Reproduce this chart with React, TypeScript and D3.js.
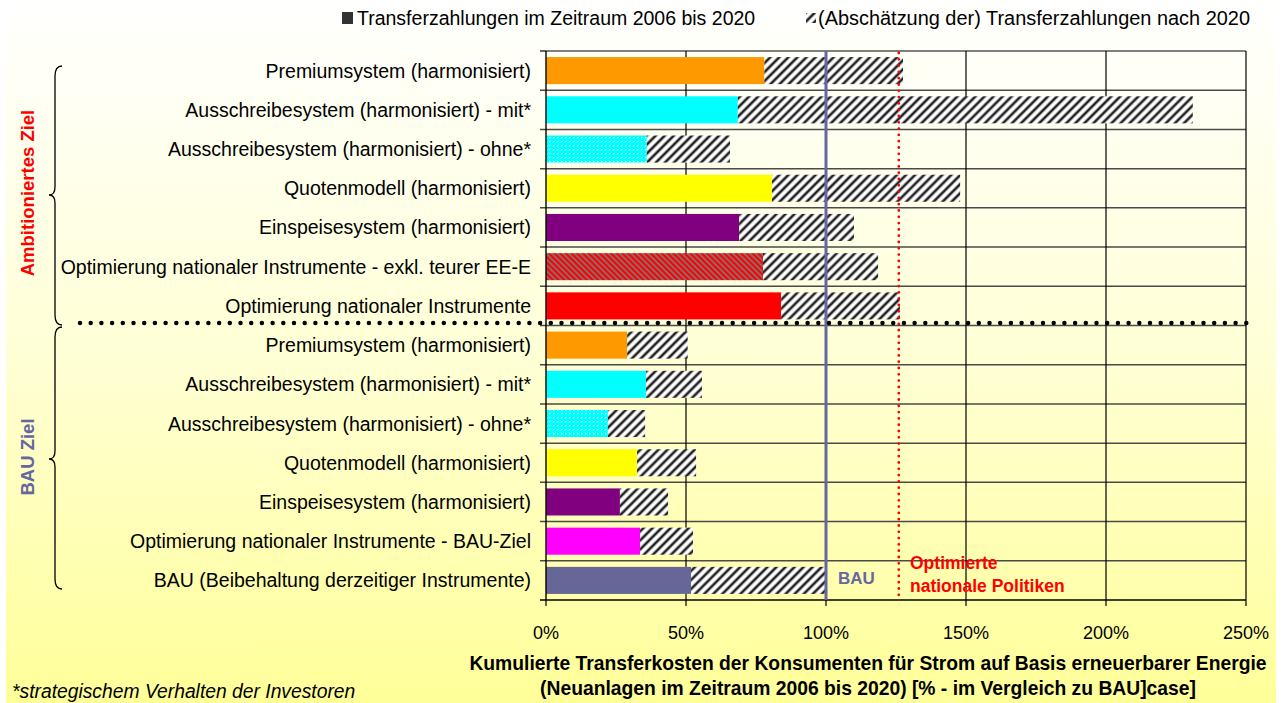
import React from "react";
import * as d3 from "d3";

const categories = [
  "Premiumsystem (harmonisiert)",
  "Ausschreibesystem (harmonisiert) - mit*",
  "Ausschreibesystem (harmonisiert) - ohne*",
  "Quotenmodell (harmonisiert)",
  "Einspeisesystem (harmonisiert)",
  "Optimierung nationaler Instrumente - exkl. teurer EE-E",
  "Optimierung nationaler Instrumente",
  "Premiumsystem (harmonisiert)",
  "Ausschreibesystem (harmonisiert) - mit*",
  "Ausschreibesystem (harmonisiert) - ohne*",
  "Quotenmodell (harmonisiert)",
  "Einspeisesystem (harmonisiert)",
  "Optimierung nationaler Instrumente - BAU-Ziel",
  "BAU (Beibehaltung derzeitiger Instrumente)",
];
// Transfer payments 2006-2020 (% of BAU)
const until2020 = [78, 68.5, 36, 80.7, 69, 77.5, 84, 29, 35.7, 22.1, 32.5, 26.4, 33.6, 51.8];
// Estimated transfer payments after 2020 (% of BAU)
const after2020 = [49.5, 162.5, 29.7, 67.2, 41, 41.1, 42.4, 21.6, 20, 13.3, 21.1, 17.2, 18.9, 48.2];
const barFills = [
  "#FF9900", "#00FFFF", "url(#cyanDots)", "#FFFF00", "#800080", "url(#redGray)", "#FF0000",
  "#FF9900", "#00FFFF", "url(#cyanDots)", "#FFFF00", "#800080", "#FF00FF", "#666699",
];
const xTicks = [0, 50, 100, 150, 200, 250];
const bauLine = 100;
const optLine = 126;
const legendLabels = [
  "Transferzahlungen im Zeitraum 2006 bis 2020",
  "(Abschätzung der) Transferzahlungen nach 2020",
];
const groupLabels = ["Ambitioniertes Ziel", "BAU Ziel"];

const W = 1281;
const H = 703;
const FONT = "Liberation Sans, Arial, sans-serif";

export default function App() {
  const x = d3.scaleLinear().domain([0, 250]).range([546, 1246]);
  const y = d3
    .scaleBand<number>()
    .domain(categories.map((_, i) => i))
    .range([51, 600])
    .paddingInner(0.31)
    .paddingOuter(0.155);
  const step = y.step();
  const bounds = d3.range(1, categories.length).map((i) => 51 + i * step);

  const brace = (top: number, tip: number, bottom: number) => {
    const xe = 62, xv = 55, xt = 49;
    return `M${xe},${top} Q${xv},${top} ${xv},${top + 10} L${xv},${tip - 8} Q${xv},${tip} ${xt},${tip} Q${xv},${tip} ${xv},${tip + 8} L${xv},${bottom - 10} Q${xv},${bottom} ${xe},${bottom}`;
  };

  return (
    <svg
      width={W}
      height={H}
      style={{ position: "absolute", left: 0, top: 0, fontFamily: FONT }}
    >
      <defs>
        <linearGradient id="bg" x1="0" y1="0" x2="0" y2="1">
          <stop offset="0" stopColor="#FFFFFF" />
          <stop offset="0.5" stopColor="#FFFFD6" />
          <stop offset="1" stopColor="#FFFF99" />
        </linearGradient>
        <pattern id="hatch" patternUnits="userSpaceOnUse" width="6.4" height="10" patternTransform="rotate(45)">
          <rect width="6.4" height="10" fill="#FFFFFF" />
          <rect x="1" width="0.7" height="10" fill="#999" />
          <rect x="1.7" width="2.2" height="10" fill="#222" />
          <rect x="3.9" width="0.7" height="10" fill="#999" />
        </pattern>
        <pattern id="redGray" patternUnits="userSpaceOnUse" width="4" height="10" patternTransform="rotate(-45)">
          <rect width="4" height="10" fill="#FF0000" />
          <rect x="2" width="2" height="10" fill="#8a6a6a" />
        </pattern>
        <pattern id="cyanDots" patternUnits="userSpaceOnUse" width="4" height="4">
          <rect width="4" height="4" fill="#00FFFF" />
          <rect x="1" y="1" width="1.3" height="1.3" fill="#E8FFFF" />
        </pattern>
      </defs>

      <rect x={6} y={0} width={1270} height={H} fill="url(#bg)" />

      {/* Legend */}
      <rect x={342} y={12} width={11} height={12} fill="#333333" />
      <text x={357} y={25} fontSize={19.5} fill="#000">{legendLabels[0]}</text>
      <rect x={806} y={13} width={10} height={10} fill="url(#hatch)" />
      <text x={818} y={25} fontSize={19.5} fill="#000" textLength={432} lengthAdjust="spacingAndGlyphs">{legendLabels[1]}</text>

      {/* Plot frame */}
      <line x1={546} x2={1246} y1={51} y2={51} stroke="#000" strokeWidth={1.2} />
      {bounds.map((b, i) => (
        <line key={"g" + i} x1={540} x2={1246} y1={b} y2={b} stroke="#4a4a4a" strokeWidth={1.5} />
      ))}
      {xTicks.filter((t) => t > 0 && t < 250 && t !== bauLine).map((t) => (
        <line key={"v" + t} x1={x(t)} x2={x(t)} y1={51} y2={600} stroke="#000" strokeWidth={1.2} />
      ))}
      <line x1={1246} x2={1246} y1={51} y2={600} stroke="#000" strokeWidth={1.2} />

      {/* Bars */}
      {categories.map((c, i) => {
        const yy = y(i)!;
        const h = y.bandwidth();
        return (
          <g key={"b" + i}>
            <rect x={x(0)} y={yy} width={x(until2020[i]) - x(0)} height={h} fill={barFills[i]} />
            <rect
              x={x(until2020[i])}
              y={yy}
              width={x(until2020[i] + after2020[i]) - x(until2020[i])}
              height={h}
              fill="url(#hatch)"
            />
          </g>
        );
      })}

      {/* Axes */}
      <line x1={546} x2={546} y1={51} y2={600} stroke="#000" strokeWidth={1.4} />
      <line x1={540} x2={1246} y1={600} y2={600} stroke="#000" strokeWidth={1.4} />
      <line x1={540} x2={546} y1={51} y2={51} stroke="#000" strokeWidth={1.2} />
      {xTicks.map((t) => (
        <g key={"t" + t}>
          <line x1={x(t)} x2={x(t)} y1={600} y2={606} stroke="#000" strokeWidth={1.2} />
          <text x={x(t)} y={639} fontSize={18} textAnchor="middle" fill="#000">
            {t + "%"}
          </text>
        </g>
      ))}

      {/* Reference lines */}
      <line x1={x(bauLine)} x2={x(bauLine)} y1={51} y2={600} stroke="#6666A0" strokeWidth={3} />
      <line
        x1={x(optLine)}
        x2={x(optLine)}
        y1={53}
        y2={600}
        stroke="#FF0000"
        strokeWidth={2.8}
        strokeDasharray="0 6.3"
        strokeLinecap="round"
      />
      <text x={838} y={584} fontSize={17} fontWeight="bold" fill="#6666A0">BAU</text>
      <text x={910} y={569} fontSize={17.5} fontWeight="bold" fill="#FF0000">Optimierte</text>
      <text x={910} y={592} fontSize={17.5} fontWeight="bold" fill="#FF0000">nationale Politiken</text>

      {/* Separator */}
      <line
        x1={80}
        x2={1252}
        y1={323}
        y2={323}
        stroke="#000"
        strokeWidth={4.5}
        strokeDasharray="0 10.7"
        strokeLinecap="round"
      />

      {/* Category labels */}
      {categories.map((c, i) => (
        <text
          key={"l" + i}
          x={531}
          y={y(i)! + y.bandwidth() / 2 + 7}
          fontSize={19.5}
          textAnchor="end"
          fill="#000"
        >
          {c}
        </text>
      ))}

      {/* Braces and group labels */}
      <path d={brace(66, 195, 325)} fill="none" stroke="#000" strokeWidth={1.3} />
      <path d={brace(327, 459, 589)} fill="none" stroke="#000" strokeWidth={1.3} />
      <text
        transform="translate(34,193) rotate(-90)"
        fontSize={18.5}
        fontWeight="bold"
        textAnchor="middle"
        fill="#FF0000"
      >
        {groupLabels[0]}
      </text>
      <text
        transform="translate(34,457) rotate(-90)"
        fontSize={18.5}
        fontWeight="bold"
        textAnchor="middle"
        fill="#6666A0"
      >
        {groupLabels[1]}
      </text>

      {/* Axis title */}
      <text x={868} y={670} fontSize={19.3} fontWeight="bold" textAnchor="middle" fill="#000">
        Kumulierte Transferkosten der Konsumenten für Strom auf Basis erneuerbarer Energie
      </text>
      <text x={868} y={695} fontSize={19.3} fontWeight="bold" textAnchor="middle" fill="#000">
        (Neuanlagen im Zeitraum 2006 bis 2020) [% - im Vergleich zu BAU]case]
      </text>
      <text x={12} y={698} fontSize={19.3} fontStyle="italic" fill="#000">
        *strategischem Verhalten der Investoren
      </text>
    </svg>
  );
}
